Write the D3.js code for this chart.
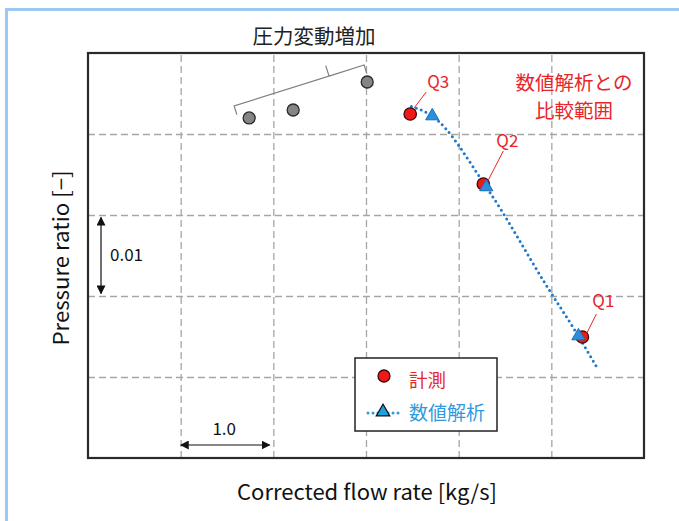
<!DOCTYPE html>
<html>
<head>
<meta charset="utf-8">
<script src="https://cdn.jsdelivr.net/npm/d3@7"></script>
<style>
  html, body { margin: 0; padding: 0; background: #fff; }
  svg { display: block; }
</style>
</head>
<body>
<svg id="chart" width="679" height="521"></svg>
<script>
// Corrected flow rate [kg/s] (relative) and pressure ratio (relative offset)
const measuredFlow = [5.335, 4.266, 3.477];
const measuredRatio = [0.01494, 0.03383, 0.04247];
const measuredNames = ["Q1", "Q2", "Q3"];

const analysisFlow = [5.292, 4.298, 3.715];
const analysisRatio = [0.01506, 0.03346, 0.04222];

// Analysis characteristic curve
const curveFlow = [3.49, 3.715, 4.298, 4.957, 5.292, 5.508];
const curveRatio = [0.0434, 0.04222, 0.03346, 0.02111, 0.01506, 0.01086];

// Points with increasing pressure fluctuation
const surgeFlow = [1.739, 2.214, 3.013];
const surgeRatio = [0.04198, 0.04296, 0.04642];

// Grid positions
const xGrid = [0, 1, 2, 3, 4, 5, 6];
const yGrid = [0, 0.01, 0.02, 0.03, 0.04, 0.05];

const svg = d3.select("#chart");
const W = 679, H = 521;
const plot = { left: 88, right: 644, top: 53, bottom: 458 };

const x = d3.scaleLinear().domain([0, 6]).range([plot.left, plot.right]);
const y = d3.scaleLinear().domain([0, 0.05]).range([plot.bottom, plot.top]);

const RED = "#f01818";
const REDTXT = "#e8252a";
const BLUE = "#1f78c8";
const BLUETXT = "#2f9ae0";
const FONT = "'Noto Sans CJK JP', 'Noto Sans', sans-serif";

// Light blue frame along top and left
svg.append("rect").attr("x", 5).attr("y", 8).attr("width", W - 5).attr("height", 3).attr("fill", "#9cc8f4");
svg.append("rect").attr("x", 5).attr("y", 8).attr("width", 3).attr("height", H - 8).attr("fill", "#9cc8f4");

// Dashed grid via axes
const gx = svg.append("g")
  .attr("transform", `translate(0,${plot.bottom})`)
  .call(d3.axisBottom(x).tickValues(xGrid.slice(1, -1)).tickSize(-(plot.bottom - plot.top)).tickFormat(""));
const gy = svg.append("g")
  .attr("transform", `translate(${plot.left},0)`)
  .call(d3.axisLeft(y).tickValues(yGrid.slice(1, -1)).tickSize(-(plot.right - plot.left)).tickFormat(""));
[gx, gy].forEach(g => {
  g.select(".domain").remove();
  g.selectAll(".tick line")
    .attr("stroke", "#a6a6a6")
    .attr("stroke-width", 1.3)
    .attr("stroke-dasharray", "7 4");
});

// Plot border
svg.append("rect")
  .attr("x", plot.left).attr("y", plot.top)
  .attr("width", plot.right - plot.left).attr("height", plot.bottom - plot.top)
  .attr("fill", "none").attr("stroke", "#2a2a2a").attr("stroke-width", 2.2);

// Title annotation
svg.append("text")
  .attr("x", 314).attr("y", 44)
  .attr("text-anchor", "middle")
  .attr("font-family", FONT).attr("font-size", 20.5)
  .attr("fill", "#222")
  .text("圧力変動増加");

// Brace over the surge-side points
(function drawBrace() {
  const p0 = [x(1.577), y(0.04346)];
  const p1 = [x(2.98), y(0.04852)];
  const dx = p1[0] - p0[0], dy = p1[1] - p0[1];
  const len = Math.hypot(dx, dy);
  const ux = dx / len, uy = dy / len;
  const nx = uy, ny = -ux; // perpendicular, pointing up
  const hook = 9, notch = 11;
  const mid = [p0[0] + dx * 0.73, p0[1] + dy * 0.73];
  const path = d3.path();
  path.moveTo(p0[0] - nx * hook, p0[1] - ny * hook);
  path.lineTo(p0[0], p0[1]);
  path.lineTo(mid[0], mid[1]);
  path.lineTo(mid[0] + nx * notch, mid[1] + ny * notch);
  path.moveTo(mid[0], mid[1]);
  path.lineTo(p1[0], p1[1]);
  path.lineTo(p1[0] - nx * hook, p1[1] - ny * hook);
  svg.append("path").attr("d", path.toString())
    .attr("fill", "none").attr("stroke", "#808080").attr("stroke-width", 1.2);
})();

// Scale bars
const defs = svg.append("defs");
defs.append("marker").attr("id", "arr")
  .attr("viewBox", "0 0 10 10").attr("refX", 9).attr("refY", 5)
  .attr("markerWidth", 9).attr("markerHeight", 9).attr("markerUnits", "userSpaceOnUse")
  .attr("orient", "auto-start-reverse")
  .append("path").attr("d", "M0,0 L10,5 L0,10 Z").attr("fill", "#111");

svg.append("line")
  .attr("x1", 101).attr("x2", 101)
  .attr("y1", y(0.0297)).attr("y2", y(0.0203))
  .attr("stroke", "#111").attr("stroke-width", 1.2)
  .attr("marker-start", "url(#arr)").attr("marker-end", "url(#arr)");
svg.append("text").attr("x", 110).attr("y", 261)
  .attr("font-family", FONT).attr("font-size", 17).attr("fill", "#111").text("0.01");

svg.append("line")
  .attr("x1", x(1.0)).attr("x2", x(1.96))
  .attr("y1", 445).attr("y2", 445)
  .attr("stroke", "#111").attr("stroke-width", 1.2)
  .attr("marker-start", "url(#arr)").attr("marker-end", "url(#arr)");
svg.append("text").attr("x", x(1.47)).attr("y", 435)
  .attr("text-anchor", "middle")
  .attr("font-family", FONT).attr("font-size", 17).attr("fill", "#111").text("1.0");

// Analysis curve (dotted)
const curvePts = curveFlow.map((f, i) => [f, curveRatio[i]]);
svg.append("path")
  .datum(curvePts)
  .attr("d", d3.line().x(d => x(d[0])).y(d => y(d[1])).curve(d3.curveMonotoneX))
  .attr("fill", "none").attr("stroke", BLUE).attr("stroke-width", 3)
  .attr("stroke-linecap", "round").attr("stroke-dasharray", "0 5.2");

// Surge-side measured points
svg.append("g").selectAll("circle")
  .data(surgeFlow.map((f, i) => [f, surgeRatio[i]]))
  .join("circle")
  .attr("cx", d => x(d[0])).attr("cy", d => y(d[1])).attr("r", 6)
  .attr("fill", "#858585").attr("stroke", "#2a2a2a").attr("stroke-width", 1.3);

// Measured points
svg.append("g").selectAll("circle")
  .data(measuredFlow.map((f, i) => [f, measuredRatio[i]]))
  .join("circle")
  .attr("cx", d => x(d[0])).attr("cy", d => y(d[1])).attr("r", 6.2)
  .attr("fill", RED).attr("stroke", "#3a0a0a").attr("stroke-width", 1.3);

// Analysis points
const tri = d3.symbol().type(d3.symbolTriangle).size(75);
svg.append("g").selectAll("path")
  .data(analysisFlow.map((f, i) => [f, analysisRatio[i]]))
  .join("path")
  .attr("d", tri)
  .attr("transform", d => `translate(${x(d[0])},${y(d[1])})`)
  .attr("fill", "#2b8fdc").attr("stroke", "#1b6fb8").attr("stroke-width", 1);

// Point name labels with leaders
const labelOffsets = [
  { tx: 21, ty: -30, lx1: 14, ly1: -23, lx2: 4, ly2: -3 },
  { tx: 24, ty: -37, lx1: 20, ly1: -33, lx2: 4, ly2: -2 },
  { tx: 28, ty: -26, lx1: 16, ly1: -22, lx2: 4, ly2: -6 }
];
measuredNames.forEach((name, i) => {
  const cx = x(measuredFlow[i]), cy = y(measuredRatio[i]);
  const o = labelOffsets[i];
  svg.append("line")
    .attr("x1", cx + o.lx1).attr("y1", cy + o.ly1)
    .attr("x2", cx + o.lx2).attr("y2", cy + o.ly2)
    .attr("stroke", REDTXT).attr("stroke-width", 1);
  svg.append("text")
    .attr("x", cx + o.tx).attr("y", cy + o.ty)
    .attr("text-anchor", "middle")
    .attr("font-family", FONT).attr("font-size", 17).attr("fill", REDTXT)
    .text(name);
});

// Comparison range note
[["数値解析との", 90], ["比較範囲", 117.5]].forEach(([t, yy]) => {
  svg.append("text")
    .attr("x", 574).attr("y", yy)
    .attr("text-anchor", "middle")
    .attr("font-family", FONT).attr("font-size", 19.5).attr("fill", REDTXT)
    .text(t);
});

// Legend
const lg = svg.append("g");
lg.append("rect").attr("x", 355).attr("y", 358).attr("width", 142).attr("height", 73)
  .attr("fill", "#fff").attr("stroke", "#222").attr("stroke-width", 1.5);
lg.append("circle").attr("cx", 384).attr("cy", 376).attr("r", 6)
  .attr("fill", RED).attr("stroke", "#3a0a0a").attr("stroke-width", 1.3);
lg.append("text").attr("x", 409).attr("y", 387)
  .attr("font-family", FONT).attr("font-size", 18.5).attr("fill", REDTXT).text("計測");
lg.append("line").attr("x1", 368).attr("x2", 401).attr("y1", 413).attr("y2", 413)
  .attr("stroke", "#2b9ae0").attr("stroke-width", 3)
  .attr("stroke-linecap", "round").attr("stroke-dasharray", "0 5");
lg.append("path").attr("d", d3.symbol().type(d3.symbolTriangle).size(80))
  .attr("transform", "translate(383,412)")
  .attr("fill", "#1fa0e0").attr("stroke", "#111").attr("stroke-width", 1.2);
lg.append("text").attr("x", 409).attr("y", 420)
  .attr("font-family", FONT).attr("font-size", 19).attr("fill", BLUETXT).text("数値解析");

// Axis titles
svg.append("text")
  .attr("x", 367).attr("y", 500)
  .attr("text-anchor", "middle")
  .attr("font-family", FONT).attr("font-size", 21).attr("fill", "#111")
  .attr("textLength", 260).attr("lengthAdjust", "spacingAndGlyphs")
  .text("Corrected flow rate [kg/s]");
svg.append("text")
  .attr("transform", `translate(69,258) rotate(-90)`)
  .attr("text-anchor", "middle")
  .attr("font-family", FONT).attr("font-size", 21).attr("fill", "#111")
  .attr("textLength", 175).attr("lengthAdjust", "spacingAndGlyphs")
  .text("Pressure ratio [−]");
</script>
</body>
</html>
